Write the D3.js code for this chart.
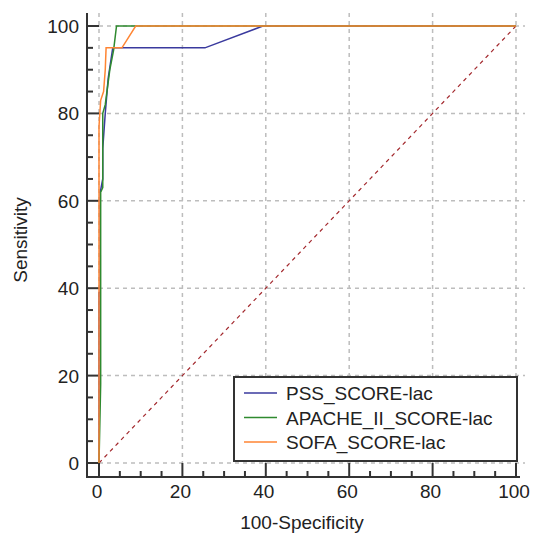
<!DOCTYPE html>
<html>
<head>
<meta charset="utf-8">
<script src="https://cdn.jsdelivr.net/npm/d3@7"></script>
<style>
  body { margin: 0; background: #fff; }
  text { font-family: "Liberation Sans", Arial, sans-serif; fill: #222; }
</style>
</head>
<body>
<svg id="chart" width="535" height="534"></svg>
<script>
// ROC curves, x = 100-Specificity, y = Sensitivity
const seriesNames = ["PSS_SCORE-lac", "APACHE_II_SCORE-lac", "SOFA_SCORE-lac"];
const seriesColors = ["#3a3a9e", "#2f8a2f", "#ff8533"];

const pssX = [0, 0, 0.3, 0.3, 0.9, 0.9, 1.5, 2.2, 3.3, 25.4, 39.3, 100];
const pssY = [0, 39, 39, 62, 65, 72, 80, 88, 95, 95, 100, 100];

const apacheX = [0, 0.4, 0.4, 0.9, 0.9, 1.5, 1.9, 2.6, 3.5, 4.2, 100];
const apacheY = [0, 18, 62, 63, 80, 82, 85, 90, 94.5, 100, 100];

const sofaX = [0, 0, 0.4, 1.1, 1.5, 1.7, 5.5, 8.8, 100];
const sofaY = [0, 77, 83, 85, 90, 95, 95, 100, 100];

const xTicks = [0, 20, 40, 60, 80, 100];
const yTicks = [0, 20, 40, 60, 80, 100];
const minorTicks = d3.range(0, 101, 5);

const svg = d3.select("#chart");
const x = d3.scaleLinear().domain([0, 100]).range([99, 516]);
const y = d3.scaleLinear().domain([0, 100]).range([463, 26]);

const axisX = 87;
const axisY = 477;
const gridColor = "#bdbdbd";
const axisColor = "#333";
const fontSize = 19;

// grid
const grid = svg.append("g");
grid.selectAll("line.gx")
  .data(xTicks)
  .join("line")
  .attr("x1", (d) => x(d)).attr("x2", (d) => x(d))
  .attr("y1", 13).attr("y2", y(0))
  .attr("stroke", gridColor).attr("stroke-width", 1.5)
  .attr("stroke-dasharray", "4,4");
grid.selectAll("line.gy")
  .data(yTicks)
  .join("line")
  .attr("x1", x(0)).attr("x2", 525)
  .attr("y1", (d) => y(d)).attr("y2", (d) => y(d))
  .attr("stroke", gridColor).attr("stroke-width", 1.5)
  .attr("stroke-dasharray", "4,4");

// diagonal reference
svg.append("line")
  .attr("x1", x(0)).attr("y1", y(0))
  .attr("x2", x(100)).attr("y2", y(100))
  .attr("stroke", "#a3282d").attr("stroke-width", 1.2)
  .attr("stroke-dasharray", "4,4");

// axes (offset from plot area)
const ax = svg.append("g").attr("stroke", axisColor).attr("stroke-width", 2);
ax.append("line").attr("x1", axisX).attr("x2", axisX).attr("y1", 13).attr("y2", axisY + 1);
ax.append("line").attr("x1", axisX - 1).attr("x2", 520).attr("y1", axisY).attr("y2", axisY);

ax.selectAll("line.ymin")
  .data(minorTicks)
  .join("line")
  .attr("x1", axisX)
  .attr("x2", (d) => (d % 20 === 0 ? x(0) : axisX + 6))
  .attr("y1", (d) => y(d)).attr("y2", (d) => y(d));
ax.selectAll("line.xmin")
  .data(minorTicks)
  .join("line")
  .attr("y1", axisY)
  .attr("y2", (d) => (d % 20 === 0 ? y(0) : axisY - 6))
  .attr("x1", (d) => x(d)).attr("x2", (d) => x(d));

svg.append("g").selectAll("text")
  .data(yTicks)
  .join("text")
  .attr("x", 79)
  .attr("y", (d) => y(d) + 7)
  .attr("text-anchor", "end")
  .attr("font-size", fontSize)
  .text((d) => d);

svg.append("g").selectAll("text")
  .data(xTicks)
  .join("text")
  .attr("x", (d) => x(d) - 2)
  .attr("y", 498)
  .attr("text-anchor", "middle")
  .attr("font-size", fontSize)
  .text((d) => d);

svg.append("text")
  .attr("x", 302).attr("y", 529)
  .attr("text-anchor", "middle")
  .attr("font-size", fontSize)
  .text("100-Specificity");

svg.append("text")
  .attr("transform", "translate(27,240) rotate(-90)")
  .attr("text-anchor", "middle")
  .attr("font-size", fontSize)
  .text("Sensitivity");

// curves
const series = [
  { xs: pssX, ys: pssY },
  { xs: apacheX, ys: apacheY },
  { xs: sofaX, ys: sofaY },
];
const line = d3.line().x((d) => x(d[0])).y((d) => y(d[1]));
svg.append("g").selectAll("path")
  .data(series)
  .join("path")
  .attr("d", (s) => line(s.xs.map((v, i) => [v, s.ys[i]])))
  .attr("fill", "none")
  .attr("stroke", (s, i) => seriesColors[i])
  .attr("stroke-width", 1.5);

// legend
const legend = svg.append("g");
legend.append("rect")
  .attr("x", 234).attr("y", 377)
  .attr("width", 283).attr("height", 84)
  .attr("fill", "#fff")
  .attr("stroke", axisColor).attr("stroke-width", 2);
const rows = legend.selectAll("g")
  .data(seriesNames)
  .join("g")
  .attr("transform", (d, i) => `translate(0,${393 + i * 24.5})`);
rows.append("line")
  .attr("x1", 244).attr("x2", 277)
  .attr("stroke", (d, i) => seriesColors[i])
  .attr("stroke-width", 1.5);
rows.append("text")
  .attr("x", 286).attr("y", 7)
  .attr("font-size", fontSize)
  .text((d) => d);
</script>
</body>
</html>
